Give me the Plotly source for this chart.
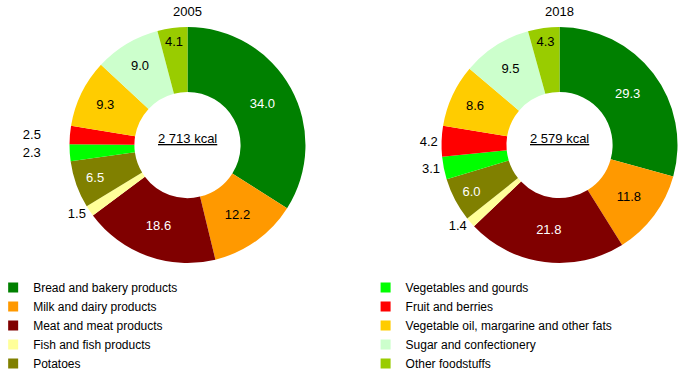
import plotly.graph_objects as go

categories = ["Bread and bakery products", "Milk and dairy products", "Meat and meat products",
              "Fish and fish products", "Potatoes", "Vegetables and gourds", "Fruit and berries",
              "Vegetable oil, margarine and other fats", "Sugar and confectionery", "Other foodstuffs"]
colors = ["#008000", "#FF9900", "#800000", "#FFFF99", "#808000", "#00FF00", "#FF0000",
          "#FFCC00", "#CCFFCC", "#99CC00"]
values_2005 = [34.0, 12.2, 18.6, 1.5, 6.5, 2.3, 2.5, 9.3, 9.0, 4.1]
values_2018 = [29.3, 11.8, 21.8, 1.4, 6.0, 3.1, 4.2, 8.6, 9.5, 4.3]
totals = ["2 713 kcal", "2 579 kcal"]
years = ["2005", "2018"]

text_colors = ["white", "black", "white", "black", "white", "black", "black", "black", "black", "black"]
positions = ["inside", "inside", "inside", "outside", "inside", "outside", "outside",
             "inside", "inside", "inside"]
# extra gap (non-breaking spaces) between ring and outside label, per pie
label_pads = [[0, 0, 0, 0, 0, 7, 7, 0, 0, 0], [0] * 10]
FONT = "Liberation Sans, Arial, sans-serif"

fig = go.Figure()

domains = [[0.1016, 0.4466], [0.6455, 0.9905]]
centers_x = []
for vals, dom, pads in zip([values_2005, values_2018], domains, label_pads):
    templates = ["%{value:.1f}" + "&nbsp;" * p for p in pads]
    fig.add_trace(go.Pie(
        labels=categories, values=vals, sort=False, direction="clockwise", rotation=0,
        hole=0.45, marker=dict(colors=colors, line=dict(width=0)),
        texttemplate=templates, textposition=positions,
        insidetextorientation="horizontal",
        textfont=dict(family=FONT, size=13, color=text_colors),
        outsidetextfont=dict(family=FONT, size=13, color="black"),
        domain=dict(x=dom, y=[0.293, 0.9274]), showlegend=False, hoverinfo="label+value",
    ))
    centers_x.append((dom[0] + dom[1]) / 2)

for i, (cat, col) in enumerate(zip(categories, colors)):
    fig.add_trace(go.Scatter(
        x=[None], y=[None], mode="markers", name=cat,
        marker=dict(symbol="square", size=10, color=col),
        legend="legend" if i < 5 else "legend2",
    ))

annotations = []
for cx, tot, yr in zip(centers_x, totals, years):
    annotations.append(dict(x=cx, y=0.629, xref="paper", yref="paper", text="<u>" + tot + "</u>",
                            xanchor="center", yanchor="middle", showarrow=False,
                            font=dict(family=FONT, size=13, color="black")))
    annotations.append(dict(x=cx, y=0.9704, xref="paper", yref="paper", text=yr,
                            xanchor="center", yanchor="middle", showarrow=False,
                            font=dict(family=FONT, size=13, color="black")))

legend_common = dict(font=dict(family=FONT, size=12, color="black"), orientation="v",
                     yanchor="top", xanchor="left", bgcolor="rgba(0,0,0,0)", tracegroupgap=0,
                     itemwidth=30)
fig.update_layout(
    width=684, height=372, margin=dict(l=0, r=0, t=0, b=0, autoexpand=False),
    paper_bgcolor="white", plot_bgcolor="white",
    xaxis=dict(visible=False), yaxis=dict(visible=False),
    legend=dict(x=-0.01, y=0.2662, **legend_common),
    legend2=dict(x=0.5345, y=0.2662, **legend_common),
    annotations=annotations,
)

fig.write_html("out.html", config={"displayModeBar": False},
               post_script="document.body.style.margin='0';")
